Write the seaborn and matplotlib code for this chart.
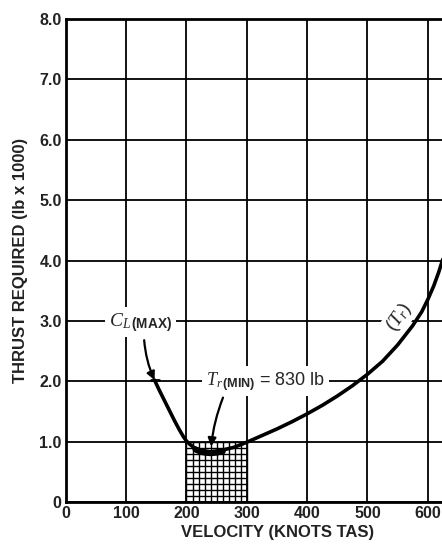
import matplotlib
matplotlib.use("Agg")
import matplotlib.pyplot as plt
import seaborn as sns
import numpy as np
import pandas as pd

# Thrust-required curve (velocity in knots TAS, thrust in lb x 1000)
velocity = [147, 155, 163, 171, 180, 188, 195, 200, 205, 210, 215, 220, 225,
            230, 235, 240, 245, 250, 255, 260, 270, 280, 290, 300, 325, 350,
            375, 400, 425, 450, 475, 500, 525, 550, 575, 590, 600, 610, 618,
            625]
thrust = [2.02, 1.85, 1.69, 1.53, 1.35, 1.20, 1.08, 1.01, 0.96, 0.92, 0.89,
          0.87, 0.85, 0.84, 0.835, 0.83, 0.835, 0.84, 0.85, 0.86, 0.885, 0.91,
          0.95, 0.99, 1.10, 1.21, 1.33, 1.46, 1.60, 1.755, 1.925, 2.115, 2.33,
          2.60, 2.92, 3.15, 3.35, 3.58, 3.80, 4.02]

x_ticks = [0, 100, 200, 300, 400, 500, 600]
x_tick_labels = ["0", "100", "200", "300", "400", "500", "600"]
y_ticks = [0, 1, 2, 3, 4, 5, 6, 7, 8]
y_tick_labels = ["0", "1.0", "2.0", "3.0", "4.0", "5.0", "6.0", "7.0", "8.0"]

# Shaded speed band around minimum thrust
band_x = [200, 300]
band_top = 1.0
clmax_point = (147, 2.02)
trmin_point = (240, 0.83)

sns.set_style("white")
plt.rcParams["font.family"] = ["Liberation Sans", "DejaVu Sans"]
plt.rcParams["mathtext.fontset"] = "custom"
plt.rcParams["mathtext.it"] = "Liberation Serif:italic"
plt.rcParams["mathtext.rm"] = "Liberation Sans"
plt.rcParams["mathtext.bf"] = "Liberation Sans:bold"

fig = plt.figure(figsize=(4.42, 5.49), dpi=100)
ax = fig.add_axes([0.149, 0.0856, 0.861, 0.8798])

# grid
for xv in x_ticks:
    ax.axvline(xv, color="black", lw=1.3, zorder=1)
for yv in y_ticks:
    ax.axhline(yv, color="black", lw=1.3, zorder=1)

# cross-hatched band
hx = np.arange(band_x[0], band_x[1] + 1, 10)
hy = np.arange(0, band_top + 0.001, 0.1)
ax.vlines(hx, 0, band_top, color="black", lw=1.0, zorder=2)
ax.hlines(hy, band_x[0], band_x[1], color="black", lw=1.0, zorder=2)

df = pd.DataFrame({"velocity": velocity, "thrust": thrust})
sns.lineplot(data=df, x="velocity", y="thrust", ax=ax, color="black",
             lw=2.6, sort=False, zorder=4)
# heavier stroke through the bottom of the curve
low = df[(df.velocity >= 215) & (df.velocity <= 260)]
ax.plot(low.velocity, low.thrust - 0.02, color="black", lw=4.5,
        solid_capstyle="round", zorder=4)

ax.set_xlim(0, 631)
ax.set_ylim(0, 8)
ax.set_xticks(x_ticks)
ax.set_xticklabels(x_tick_labels)
ax.set_yticks(y_ticks)
ax.set_yticklabels(y_tick_labels)
ax.tick_params(axis="both", length=0, labelsize=11.5, pad=3)
for lbl in ax.get_xticklabels() + ax.get_yticklabels():
    lbl.set_fontweight("bold")
    lbl.set_color("#222222")

for side in ["left", "bottom", "top"]:
    ax.spines[side].set_color("black")
    ax.spines[side].set_linewidth(2.0)
ax.spines["right"].set_visible(False)

ax.set_xlabel("VELOCITY (KNOTS TAS)", fontsize=12, fontweight="bold",
              color="#222222")
ax.xaxis.set_label_coords(0.555, -0.047)
ax.set_ylabel("THRUST REQUIRED (lb x 1000)", fontsize=12, fontweight="bold",
              color="#222222", labelpad=8)

# annotations
ax.annotate(r"$C_{L\,\mathbf{(MAX)}}$", xy=clmax_point, xytext=(124, 2.98),
            fontsize=14, ha="center", va="center",
            bbox=dict(boxstyle="square,pad=0.2", fc="white", ec="none"),
            arrowprops=dict(arrowstyle="-|>", color="black", lw=1.6,
                            connectionstyle="arc3,rad=0.1",
                            shrinkA=2, shrinkB=0, mutation_scale=12,
                            relpos=(0.55, 0.0)),
            zorder=6)
ax.plot([clmax_point[0] - 6, clmax_point[0] + 8], [clmax_point[1], clmax_point[1]],
        color="black", lw=2.0, zorder=5)

ax.annotate(r"$T_{r\,\mathbf{(MIN)}}$" + " = 830 lb", xy=trmin_point,
            xytext=(331, 2.0), fontsize=13, ha="center", va="center",
            bbox=dict(boxstyle="square,pad=0.2", fc="white", ec="none"),
            arrowprops=dict(arrowstyle="-|>", color="black", lw=1.6,
                            connectionstyle="arc3,rad=0.08",
                            shrinkA=1, shrinkB=4, mutation_scale=12,
                            relpos=(0.16, 0.0)),
            zorder=6)

ax.text(552, 3.05, r"$(T_r)$", fontsize=14, rotation=55, ha="center",
        va="center", zorder=6,
        bbox=dict(boxstyle="square,pad=0.1", fc="white", ec="none"))

fig.savefig("out.png", dpi=100)
